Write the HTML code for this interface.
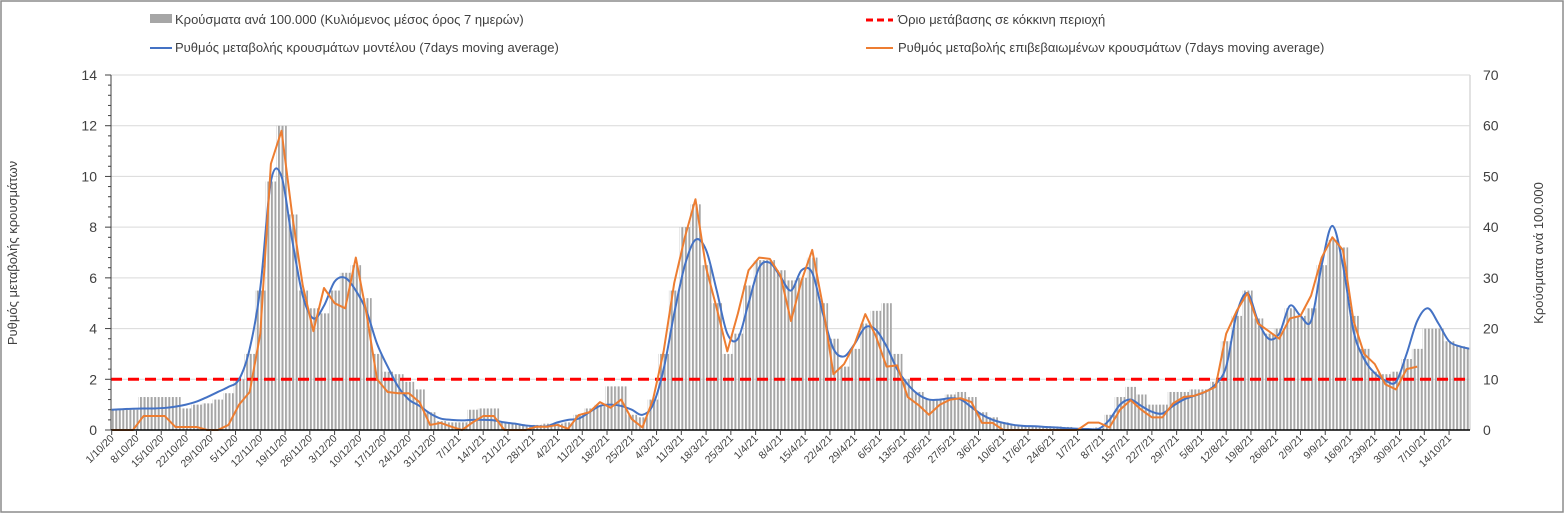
<!DOCTYPE html>
<html><head><meta charset="utf-8">
<style>
html,body{margin:0;padding:0;background:#fff;}
#wrap{position:relative;width:1564px;height:513px;overflow:hidden;font-family:"Liberation Sans",sans-serif;}
svg text{font-family:"Liberation Sans",sans-serif;fill:#404040;}
</style></head>
<body>
<div id="wrap">
<svg id="chart" width="1564" height="513">
<defs>
<pattern id="stripes" patternUnits="userSpaceOnUse" width="3.538" height="10" x="111.7">
<rect x="0" y="0" width="2" height="10" fill="#a6a6a6"/>
</pattern>
</defs>
<rect x="1" y="1" width="1562" height="511" fill="#fff" stroke="#8c8c8c" stroke-width="1.5"/>
<g id="grid"></g>
<g id="bars"></g>
<g id="lines"></g>
<g id="axes"></g>
<g id="legend">
<rect x="150" y="14" width="22" height="9" fill="#a6a6a6"/>
<text x="175" y="24" font-size="13">Κρούσματα ανά 100.000 (Κυλιόμενος μέσος όρος 7 ημερών)</text>
<line x1="866" y1="20" x2="893" y2="20" stroke="#ff0000" stroke-width="3" stroke-dasharray="7,4"/>
<text x="898" y="24" font-size="13">Όριο μετάβασης σε κόκκινη περιοχή</text>
<line x1="150" y1="48" x2="172" y2="48" stroke="#4472c4" stroke-width="2"/>
<text x="175" y="52" font-size="13">Ρυθμός μεταβολής κρουσμάτων μοντέλου (7days moving average)</text>
<line x1="866" y1="48" x2="893" y2="48" stroke="#ed7d31" stroke-width="2"/>
<text x="898" y="52" font-size="13">Ρυθμός μεταβολής επιβεβαιωμένων κρουσμάτων (7days moving average)</text>
</g>
<text transform="translate(17,253) rotate(-90)" text-anchor="middle" font-size="13">Ρυθμός μεταβολής κρουσμάτων</text>
<text transform="translate(1543,253) rotate(-90)" text-anchor="middle" font-size="13">Κρούσματα ανά 100.000</text>
</svg>
</div>
<script>
// sample every 3 days starting 1/10/2020
const sampleStep = 3;
const casesPer100k = [4,4,4,6.5,6.5,6.5,6.5,4.25,5,5.25,6,7.25,10,15,27.5,49,60,42.5,27.5,24,23,27.5,31,32.5,26,15,11.5,11,9.5,8,3.5,1.75,1.5,1.5,4,4.25,4.25,1.5,1.25,1,1,1.25,
1.25,1.5,3,4.25,5,8.6,8.6,3,2.5,6,15,27.5,40,44.5,32.5,25,15,19,28.5,33.5,33.5,31.5,29.5,30,34,25,18,12.5,16,21,23.5,25,15,10,7.5,6,6,7,7.5,6.5,3.5,2.5,1.5,
1,0.75,0.75,0.75,0.7,0.6,0.25,0.25,0.5,3,6.5,8.5,7,5,5,7.5,7.5,8,8,9.5,17.5,22.5,27.5,22,19,20,24,22.5,24,32.5,37.5,36,22.5,16,11.5,11,11.5,14,16,20,20,17.5,16.5,16];
const modelRate = [0.8,0.82,0.84,0.85,0.85,0.87,0.92,1.0,1.12,1.3,1.5,1.7,2.0,3.2,5.6,9.8,10.0,7.5,5.3,4.4,4.9,5.85,6.0,5.5,4.7,3.4,2.5,1.7,1.2,0.95,0.65,0.45,0.4,0.38,0.4,0.4,0.38,0.3,0.25,0.18,0.15,0.15,
0.3,0.4,0.45,0.7,0.95,1.0,0.95,0.8,0.6,1.0,2.4,4.6,6.5,7.5,7.1,5.5,3.8,3.6,5.0,6.4,6.6,6.05,5.5,6.3,6.2,4.6,3.2,2.9,3.4,4.05,3.95,3.3,2.4,1.8,1.4,1.2,1.2,1.25,1.2,0.9,0.6,0.4,0.28,
0.2,0.16,0.15,0.12,0.1,0.07,0.05,0.04,0.05,0.4,1.0,1.2,0.95,0.72,0.65,0.95,1.2,1.35,1.5,1.8,2.5,4.6,5.4,4.3,3.6,3.8,4.9,4.5,4.3,6.5,8.05,6.5,3.9,2.8,2.24,1.95,1.9,3.0,4.3,4.8,4.2,3.5,3.3,3.2];
const confirmedRate = [0,0,0,0.55,0.55,0.55,0.12,0.12,0.12,0,0,0.2,1.0,1.5,3.8,10.5,11.8,8.5,5.7,3.9,5.6,5.0,4.8,6.8,4.6,2.0,1.5,1.45,1.45,1.1,0.2,0.28,0.13,0,0.3,0.55,0.55,0,0,0,0.13,0.13,
0.2,0.05,0.59,0.7,1.1,0.88,1.2,0.43,0.1,1.2,3.1,5.8,7.6,9.1,6.4,4.8,3.1,4.6,6.3,6.8,6.75,6.1,4.3,5.9,7.1,4.9,2.2,2.6,3.4,4.57,3.7,2.5,2.55,1.3,0.99,0.6,0.99,1.2,1.25,1.1,0.28,0.28,0,
0,0,0,0,0,0,0,0.29,0.29,0.1,0.8,1.18,0.8,0.5,0.5,1.05,1.3,1.35,1.5,1.7,3.8,4.7,5.4,4.2,3.9,3.6,4.4,4.5,5.3,6.8,7.6,7.1,4.3,3.0,2.6,1.8,1.6,2.4,2.5,null,null,null,null,null];
const thresholdRate = 2;
const leftTicks = [0,2,4,6,8,10,12,14];
const rightTicks = [0,10,20,30,40,50,60,70];
const dateLabels = ["1/10/20","8/10/20","15/10/20","22/10/20","29/10/20","5/11/20","12/11/20","19/11/20","26/11/20","3/12/20","10/12/20","17/12/20","24/12/20","31/12/20","7/1/21","14/1/21","21/1/21","28/1/21","4/2/21","11/2/21","18/2/21","25/2/21","4/3/21","11/3/21","18/3/21","25/3/21","1/4/21","8/4/21","15/4/21","22/4/21","29/4/21","6/5/21","13/5/21","20/5/21","27/5/21","3/6/21","10/6/21","17/6/21","24/6/21","1/7/21","8/7/21","15/7/21","22/7/21","29/7/21","5/8/21","12/8/21","19/8/21","26/8/21","2/9/21","9/9/21","16/9/21","23/9/21","30/9/21","7/10/21","14/10/21"];

const NS = "http://www.w3.org/2000/svg";
const X0 = 111.7, DAY = 3.538, PL = 111, PR = 1470, YB = 430, YT = 75;
const xDay = d => X0 + d * DAY;
const yL = v => YB - (v / 14) * (YB - YT);
const yR = v => YB - (v / 70) * (YB - YT);
function mk(tag, attrs, parent) {
  const e = document.createElementNS(NS, tag);
  for (const k in attrs) e.setAttribute(k, attrs[k]);
  parent.appendChild(e);
  return e;
}
const grid = document.getElementById('grid');
const bars = document.getElementById('bars');
const lines = document.getElementById('lines');
const axes = document.getElementById('axes');

leftTicks.forEach(t => {
  if (t > 0) {
    const g = mk('line', {x1: PL, x2: PR, y1: yL(t), y2: yL(t), stroke: '#d9d9d9', 'stroke-width': 1}, grid);
    
    
  }
  const tx = mk('text', {x: 97, y: yL(t) + 5, 'text-anchor': 'end', 'font-size': 14}, axes);
  tx.textContent = t;
  
  
});
rightTicks.forEach(t => {
  const tx = mk('text', {x: 1483, y: yR(t) + 5, 'font-size': 14}, axes);
  tx.textContent = t;
  
  
});
for (let v = 0; v <= 14.001; v += 0.4) {
  const major = Math.abs(v / 2 - Math.round(v / 2)) < 0.01;
  mk('line', {x1: major ? PL - 6 : PL - 3, x2: PL, y1: yL(v), y2: yL(v), stroke: '#404040', 'stroke-width': 1}, axes);
}
casesPer100k.forEach((v, i) => {
  const d = i * sampleStep;
  const x0 = Math.max(xDay(d - 1.5), PL + 1), x1 = Math.min(xDay(d + 1.5), PR - 1);
  const r = mk('rect', {x: x0, y: yR(v), width: Math.max(0, x1 - x0), height: YB - yR(v), fill: 'url(#stripes)'}, bars);
  
  
});
const th = mk('line', {x1: PL, x2: PR, y1: yL(thresholdRate), y2: yL(thresholdRate), stroke: '#ff0000', 'stroke-width': 3, 'stroke-dasharray': '11,6'}, lines);


function smoothPath(pts) {
  let d = 'M' + pts[0][0] + ',' + pts[0][1];
  for (let i = 0; i < pts.length - 1; i++) {
    const p0 = pts[i - 1] || pts[i], p1 = pts[i], p2 = pts[i + 1], p3 = pts[i + 2] || p2;
    const c1 = [p1[0] + (p2[0] - p0[0]) / 6, p1[1] + (p2[1] - p0[1]) / 6];
    const c2 = [p2[0] - (p3[0] - p1[0]) / 6, p2[1] - (p3[1] - p1[1]) / 6];
    d += 'C' + c1 + ' ' + c2 + ' ' + p2;
  }
  return d;
}
const mPts = modelRate.map((v, i) => [xDay(i * sampleStep), yL(v)]);
const mp = mk('path', {d: smoothPath(mPts), fill: 'none', stroke: '#4472c4', 'stroke-width': 2}, lines);


const cPts = [];
confirmedRate.forEach((v, i) => { if (v !== null) cPts.push([xDay(i * sampleStep), yL(v)]); });
const cp = mk('path', {d: 'M' + cPts.map(p => p.join(',')).join('L'), fill: 'none', stroke: '#ed7d31', 'stroke-width': 2, 'stroke-linejoin': 'round'}, lines);


mk('line', {x1: PL, x2: PL, y1: YT, y2: YB, stroke: '#404040', 'stroke-width': 1}, axes);
mk('line', {x1: PR, x2: PR, y1: YT, y2: YB, stroke: '#d9d9d9', 'stroke-width': 1.5}, axes);
mk('line', {x1: PL, x2: PR, y1: YB, y2: YB, stroke: '#000', 'stroke-width': 1.5}, axes);
dateLabels.forEach((lab, i) => {
  const x = xDay(i * 7);
  mk('line', {x1: x, x2: x, y1: YB, y2: YB + 5, stroke: '#404040', 'stroke-width': 1}, axes);
  const tx = mk('text', {transform: 'translate(' + (x + 3) + ',' + (YB + 9) + ') rotate(-45)', 'text-anchor': 'end', 'font-size': 10.5}, axes);
  tx.textContent = lab;
  
  
});
</script>
</body></html>
